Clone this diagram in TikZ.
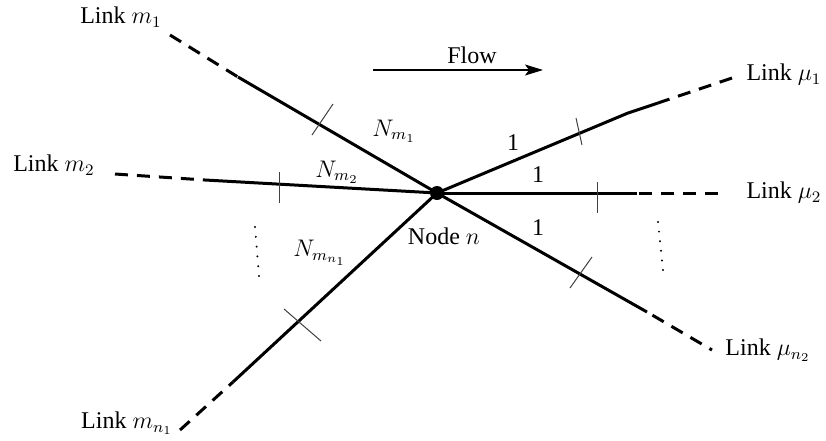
\documentclass[tikz,border=0pt]{standalone}
\usepackage[no-math]{fontspec}
\setmainfont{Liberation Serif}
\usetikzlibrary{arrows.meta}
\tikzset{
  link/.style={line width=1.5pt},
  dlink/.style={line width=1.5pt, dash pattern=on 6.5pt off 4.5pt},
  tick/.style={line width=0.5pt, black!75},
  lbl/.style={inner sep=0pt, font=\fontsize{12}{14}\selectfont},
  dotmark/.style={fill=black, draw=none}
}
\begin{document}
\begin{tikzpicture}[x=0.5pt, y=-0.5pt]
\useasboundingbox (0,0) rectangle (826,440);
% central node
\node[circle, fill=black, inner sep=0pt, minimum size=7pt] (n) at (437,193) {};
% junction and end coordinates
\coordinate (jm1) at (238,77);   \coordinate (em1) at (170,35);
\coordinate (jm2) at (205,180);  \coordinate (em2) at (115,174);
\coordinate (jmn) at (233,382);  \coordinate (emn) at (180,430);
\coordinate (k1) at (628,113);   \coordinate (jmu1) at (658,103); \coordinate (emu1) at (732,78);
\coordinate (jmu2) at (637,193); \coordinate (emu2) at (718,193);
\coordinate (jmun) at (647,312); \coordinate (emun) at (712,350);
% solid parts
\draw[link] (n.center) -- (jm1);
\draw[link] (n.center) -- (jm2);
\draw[link] (n.center) -- (jmn);
\draw[link] (n.center) -- (k1) -- (jmu1);
\draw[link] (n.center) -- (jmu2);
\draw[link] (n.center) -- (jmun);
% dashed parts (drawn from the free end inwards)
\draw[dlink] (em1) -- (jm1);
\draw[dlink] (em2) -- (jm2);
\draw[dlink] (emn) -- (jmn);
\draw[dlink] (emu1) -- (jmu1);
\draw[dlink] (emu2) -- (jmu2);
\draw[dlink, dash phase=5pt] (emun) -- (jmun);
% ticks
\draw[tick] (312,135) -- (333,104);
\draw[tick] (279,172) -- (279,203);
\draw[tick] (284,309) -- (321,341);
\draw[tick] (576,118) -- (582,145);
\draw[tick] (597,182) -- (597,213);
\draw[tick] (570,288) -- (592,257);
% vertical dots
\foreach \i in {0,...,5} {
  \fill[dotmark] ({255+0.8*\i},{227+9.8*\i}) circle (0.55pt);
  \fill[dotmark] ({658+1.0*\i},{222+9.6*\i}) circle (0.55pt);
}
% flow arrow
\coordinate (fa) at (373,70); \coordinate (fb) at (543,70);
\draw[line width=0.6pt, -{Stealth[length=9pt, width=5.5pt, inset=2pt]}] (fa) -- (fb);
\node[lbl] (flow) at (472,55) {Flow};
% labels
\node[lbl] (lm1) at (121,17) {Link $m_1$};
\node[lbl] (lm2) at (54,165) {Link $m_2$};
\node[lbl] (lmn) at (127,423) {Link $m_{n_1}$};
\node[lbl] (lmu1) at (784,75) {Link $\mu_1$};
\node[lbl] (lmu2) at (784,193) {Link $\mu_2$};
\node[lbl] (lmun) at (768,350) {Link $\mu_{n_2}$};
\node[lbl] (nm1) at (394,131) {$N_{m_1}$};
\node[lbl] (nm2) at (337,172) {$N_{m_2}$};
\node[lbl] (nmn) at (320,253) {$N_{m_{n_1}}$};
\node[lbl] (o1) at (513,143) {1};
\node[lbl] (o2) at (538,175) {1};
\node[lbl] (o3) at (538,228) {1};
\node[lbl] (nodelbl) at (444,236) {Node $n$};
\end{tikzpicture}
\end{document}
